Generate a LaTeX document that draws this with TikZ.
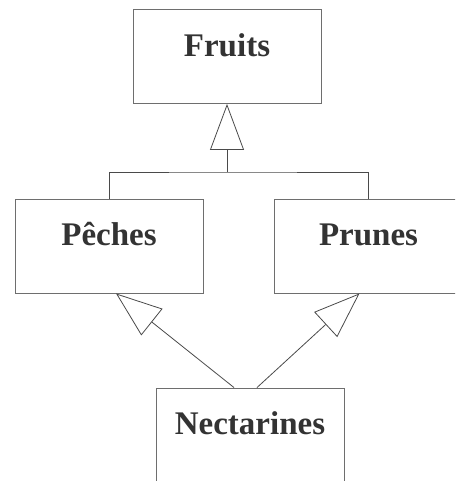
\documentclass[tikz,border=0pt]{standalone}
\usepackage{fontspec}
\setmainfont{Liberation Serif}
\usepackage{xcolor}
\definecolor{boxgray}{HTML}{6E6E6E}
\definecolor{linegray}{HTML}{4A4A4A}
\definecolor{textgray}{HTML}{333333}
\usetikzlibrary{arrows.meta,positioning}

\begin{document}
\begin{tikzpicture}[
x=1pt, y=1pt,
classbox/.style={rectangle, draw=boxgray, line width=0.9pt, minimum width=188pt, minimum height=94pt, text=textgray, font=\bfseries\fontsize{33}{36}\selectfont, text height=24pt, text depth=24pt},
inherit/.style={-{Triangle[open, length=46pt, width=34pt, fill=white]}, draw=linegray, line width=0.8pt}
]
\useasboundingbox (0,0) rectangle (455,481);
\clip (0,0) rectangle (455,481);

\node (fruits) [classbox] at (227,424.5) {Fruits};
\node (peches) [classbox] at (109,235) {Pêches};
\node (prunes) [classbox] at (368.5,235) {Prunes};
\node (nect) [classbox] at (250,46) {Nectarines};

% inheritance bracket under Fruits
\coordinate (join) at (fruits.south |- 0,309);
\draw [linegray, line width=0.8pt] (peches.north) |- (join) -| (prunes.north);
\draw [inherit] (join) -- (fruits.south);

% Nectarines from both parents
\draw [inherit] ([xshift=-16pt]nect.north) -- ([xshift=7pt]peches.south);
\draw [inherit] ([xshift=7pt]nect.north) -- ([xshift=-9pt]prunes.south);
\end{tikzpicture}
\end{document}
